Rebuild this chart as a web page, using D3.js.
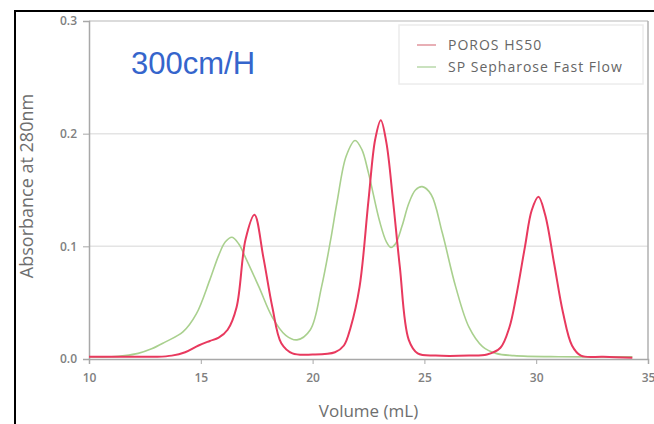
<!DOCTYPE html>
<html>
<head>
<meta charset="utf-8">
<script src="https://cdn.jsdelivr.net/npm/d3@7"></script>
<style>
  body { margin: 0; background: #fff; }
  svg { display: block; font-family: "Open Sans", Lato, sans-serif; }
</style>
</head>
<body>
<svg width="654" height="424"></svg>
<script>
// volume (mL) / absorbance pairs
var porosVol = [10.0, 11.0, 12.0, 13.0, 13.7, 14.3, 14.9, 15.4, 15.8, 16.2, 16.6, 17.0, 17.4, 17.8, 18.2, 18.6, 19.1, 20.0, 21.0, 21.4, 21.7, 22.1, 22.5, 22.8, 23.05, 23.3, 23.6, 23.9, 24.3, 24.7, 25.5, 27.0, 27.8, 28.4, 28.8, 29.1, 29.5, 29.8, 30.1, 30.4, 30.8, 31.2, 31.6, 32.0, 33.0, 34.3];
var porosAbs = [0.002, 0.002, 0.002, 0.002, 0.003, 0.006, 0.012, 0.016, 0.019, 0.026, 0.046, 0.106, 0.128, 0.090, 0.046, 0.014, 0.005, 0.004, 0.006, 0.012, 0.028, 0.064, 0.141, 0.195, 0.212, 0.192, 0.140, 0.082, 0.017, 0.005, 0.003, 0.003, 0.004, 0.010, 0.028, 0.055, 0.100, 0.132, 0.144, 0.128, 0.085, 0.041, 0.012, 0.003, 0.002, 0.001];

var spVol = [10.0, 11.0, 11.6, 12.2, 12.8, 13.4, 14.2, 14.8, 15.4, 15.8, 16.1, 16.4, 16.7, 17.0, 17.6, 18.2, 18.8, 19.3, 19.9, 20.4, 20.8, 21.1, 21.5, 21.9, 22.2, 22.5, 23.0, 23.3, 23.5, 23.7, 24.0, 24.3, 24.6, 24.9, 25.3, 25.8, 26.4, 27.0, 27.6, 28.2, 29.0, 31.0, 34.3];
var spAbs = [0.002, 0.002, 0.003, 0.005, 0.009, 0.015, 0.024, 0.040, 0.070, 0.092, 0.104, 0.108, 0.102, 0.090, 0.064, 0.037, 0.021, 0.017, 0.026, 0.064, 0.105, 0.140, 0.180, 0.194, 0.186, 0.165, 0.122, 0.104, 0.099, 0.102, 0.118, 0.138, 0.150, 0.153, 0.146, 0.112, 0.064, 0.028, 0.011, 0.005, 0.003, 0.002, 0.002];

var xTicks = [10, 15, 20, 25, 30, 35];
var yTicks = [0.0, 0.1, 0.2, 0.3];
var seriesNames = ["POROS HS50", "SP Sepharose Fast Flow"];
var seriesColors = ["#e8395e", "#a9d08e"];

var svg = d3.select("svg");
var margin = {left: 89, right: 6, top: 21, bottom: 65};
var width = +svg.attr("width");
var height = +svg.attr("height");

var x = d3.scaleLinear().domain([10, 35]).range([margin.left, width - margin.right]);
var y = d3.scaleLinear().domain([0, 0.3]).range([height - margin.bottom, margin.top]);

//outer black frame (only top and left show in the crop)
svg.append("rect")
	.attr("x", 15).attr("y", 11)
	.attr("width", 700).attr("height", 500)
	.attr("fill", "none").attr("stroke", "#000").attr("stroke-width", 2);

//gridlines
svg.append("g").selectAll("line")
	.data(yTicks.filter(function(d) { return d > 0 && d < 0.3; }))
	.enter().append("line")
	.attr("x1", x(10)).attr("x2", x(35))
	.attr("y1", function(d) { return y(d); })
	.attr("y2", function(d) { return y(d); })
	.attr("stroke", "#e4e4e4").attr("stroke-width", 1.5);

//plot frame: top and right edges
svg.append("line")
	.attr("x1", x(10)).attr("x2", x(35)).attr("y1", y(0.3)).attr("y2", y(0.3))
	.attr("stroke", "#cfcfcf").attr("stroke-width", 1.5);
svg.append("line")
	.attr("x1", x(35)).attr("x2", x(35)).attr("y1", y(0.3)).attr("y2", y(0))
	.attr("stroke", "#b0b0b0").attr("stroke-width", 1.5);

//axes
var yAxis = svg.append("g")
	.attr("transform", "translate(" + x(10) + ",0)")
	.call(d3.axisLeft(y).tickValues(yTicks).tickFormat(d3.format(".1f")).tickSize(6).tickPadding(6));
var xAxis = svg.append("g")
	.attr("transform", "translate(0," + y(0) + ")")
	.call(d3.axisBottom(x).tickValues(xTicks).tickSize(5).tickPadding(9));

[xAxis, yAxis].forEach(function(a) {
	a.select(".domain").attr("stroke", "#a8a8a8").attr("stroke-width", 1.5);
	a.selectAll(".tick line").attr("stroke", "#a8a8a8");
	a.selectAll(".tick text")
		.attr("fill", "#808080")
		.attr("font-size", 12)
		.attr("font-weight", 600)
		.attr("font-family", "'Open Sans', sans-serif");
});
yAxis.selectAll(".tick").filter(function(d) { return d === 0.3; }).select("line").remove();

//axis titles
svg.append("text")
	.attr("x", (x(10) + x(35)) / 2)
	.attr("y", 417)
	.attr("text-anchor", "middle")
	.attr("font-size", 17)
	.attr("fill", "#6e6e6e")
	.text("Volume (mL)");

svg.append("text")
	.attr("transform", "translate(33,186) rotate(-90)")
	.attr("text-anchor", "middle")
	.attr("font-size", 18)
	.attr("fill", "#6e6e6e")
	.text("Absorbance at 280nm");

//curves
var line = d3.line()
	.x(function(d) { return x(d[0]); })
	.y(function(d) { return y(d[1]); })
	.curve(d3.curveCatmullRom.alpha(0.5));

var spData = spVol.map(function(v, i) { return [v, spAbs[i]]; });
var porosData = porosVol.map(function(v, i) { return [v, porosAbs[i]]; });

svg.append("path")
	.datum(spData)
	.attr("d", line)
	.attr("fill", "none")
	.attr("stroke", seriesColors[1])
	.attr("stroke-width", 1.6);

svg.append("path")
	.datum(porosData)
	.attr("d", line)
	.attr("fill", "none")
	.attr("stroke", seriesColors[0])
	.attr("stroke-width", 2);

//legend
var legend = svg.append("g");
legend.append("rect")
	.attr("x", 399).attr("y", 25)
	.attr("width", 244).attr("height", 59)
	.attr("fill", "#fff").attr("stroke", "#ececec").attr("stroke-width", 1.5);

var item = legend.selectAll("g.item")
	.data(seriesNames)
	.enter().append("g")
	.attr("class", "item")
	.attr("transform", function(d, i) { return "translate(0," + (45 + i * 22) + ")"; });
item.append("line")
	.attr("x1", 417).attr("x2", 436)
	.attr("stroke", function(d, i) { return i === 0 ? "#e0959c" : "#b9d9aa"; })
	.attr("stroke-width", 1.5);
item.append("text")
	.attr("x", 448).attr("dy", "0.35em")
	.attr("font-size", 14)
	.attr("letter-spacing", 1)
	.attr("fill", "#666")
	.text(function(d) { return d; });

//speed annotation
svg.append("text")
	.attr("x", 131).attr("y", 74)
	.attr("font-family", "'Liberation Sans', Arial, sans-serif")
	.attr("font-size", 31)
	.attr("fill", "#3565cc")
	.text("300cm/H");
</script>
</body>
</html>
